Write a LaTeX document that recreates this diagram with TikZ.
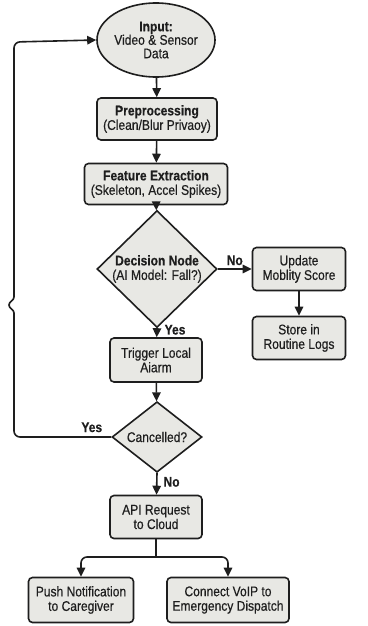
\documentclass[tikz,border=0pt]{standalone}
\usepackage{fontspec}
\setmainfont{Liberation Sans}[FakeStretch=0.86, UprightFeatures={FakeBold=0.5}, BoldFeatures={FakeBold=0.3}]
\usetikzlibrary{shapes.geometric,arrows.meta}
\definecolor{boxfill}{HTML}{E8E8E4}
\definecolor{ink}{HTML}{1E1E1E}
\tikzset{
  x=1pt,y=-1pt,
  every node/.style={font=\fontsize{14}{14.5}\selectfont, text=ink},
  proc/.style={draw=ink, fill=boxfill, line width=1.6pt, rounded corners=4pt, align=center, inner sep=0pt},
  oval/.style={draw=ink, fill=boxfill, line width=1.6pt, ellipse, align=center, inner sep=0pt},
  dia/.style={draw=ink, fill=boxfill, line width=1.6pt, diamond, align=center, inner sep=0pt},
  conn/.style={draw=ink, line width=1.6pt, -{Triangle[length=9pt,width=8.5pt]}},
  plain/.style={draw=ink, line width=1.6pt},
  lab/.style={font=\fontsize{14}{14.5}\selectfont\bfseries, inner sep=1pt}
}
\begin{document}
\begin{tikzpicture}
\useasboundingbox[fill=white] (0,0) rectangle (367,626);
\node[oval, minimum width=82, minimum height=74] (in) at (156,40) {\textbf{Input:}\\[-1pt]Video \& Sensor\\[-1pt]Data};
\node[proc, minimum width=120, minimum height=42] (pre) at (157,119) {\textbf{Preprocessing}\\(Clean/Blur Privaoy)};
\node[proc, minimum width=143, minimum height=41] (feat) at (156,184) {\textbf{Feature Extraction}\\(Skeleton, Accel Spikes)};
\node[dia, minimum width=120, minimum height=82] (dec) at (157,269) {\textbf{Decision Node}\\(AI Model: Fall?)};
\node[proc, minimum width=93, minimum height=43] (upd) at (299,269) {Update\\Moblity Score};
\node[proc, minimum width=93, minimum height=43] (store) at (299,338) {Store in\\Routine Logs};
\node[proc, minimum width=92, minimum height=44] (trig) at (156,360) {Trigger Local\\Aiarm};
\node[dia, minimum width=90, minimum height=66] (can) at (157,437) {Cancelled?};
\node[proc, minimum width=92, minimum height=43] (api) at (156,517) {API Request\\to Cloud};
\node[proc, minimum width=105, minimum height=45] (push) at (81,600) {Push Notification\\to Caregiver};
\node[proc, minimum width=122, minimum height=45] (voip) at (228,600) {Connect VoIP to\\Emergency Dispatch};

\coordinate (lb) at (14,437);
\coordinate (k1) at (14,313);
\coordinate (k2) at (9,305);
\coordinate (k3) at (14,297);
\coordinate (lt) at (14,42);
\coordinate (split) at (156,557);

\draw[conn] (in) -- (pre);
\draw[conn] (pre) -- (feat);
\draw[conn] (feat) -- (dec);
\draw[conn] (dec.east) -- node[lab, above, yshift=2pt] {No} (upd.west);
\draw[conn] (upd) -- (store);
\draw[conn] (dec.south) -- node[lab, right, xshift=6pt, yshift=3pt] {Yes} (trig);
\draw[conn] (trig) -- (can);
\draw[conn] (can.south) -- node[lab, right, xshift=5pt, yshift=2pt] {No} (api);
\draw[plain, rounded corners=6pt] (can.west) -- node[lab, above, pos=0.2, yshift=3pt] {Yes} (lb) -- (k1);
\draw[plain] (k1) .. controls (14,309) and (9,309) .. (k2) .. controls (9,301) and (14,301) .. (k3);
\draw[conn, rounded corners=6pt] (k3) -- (lt) -- (in.west);
\draw[plain] (api.south) -- (split);
\draw[conn, rounded corners=6pt] (split) -| (push.north);
\draw[conn, rounded corners=6pt] (split) -| (voip.north);
\end{tikzpicture}
\end{document}
